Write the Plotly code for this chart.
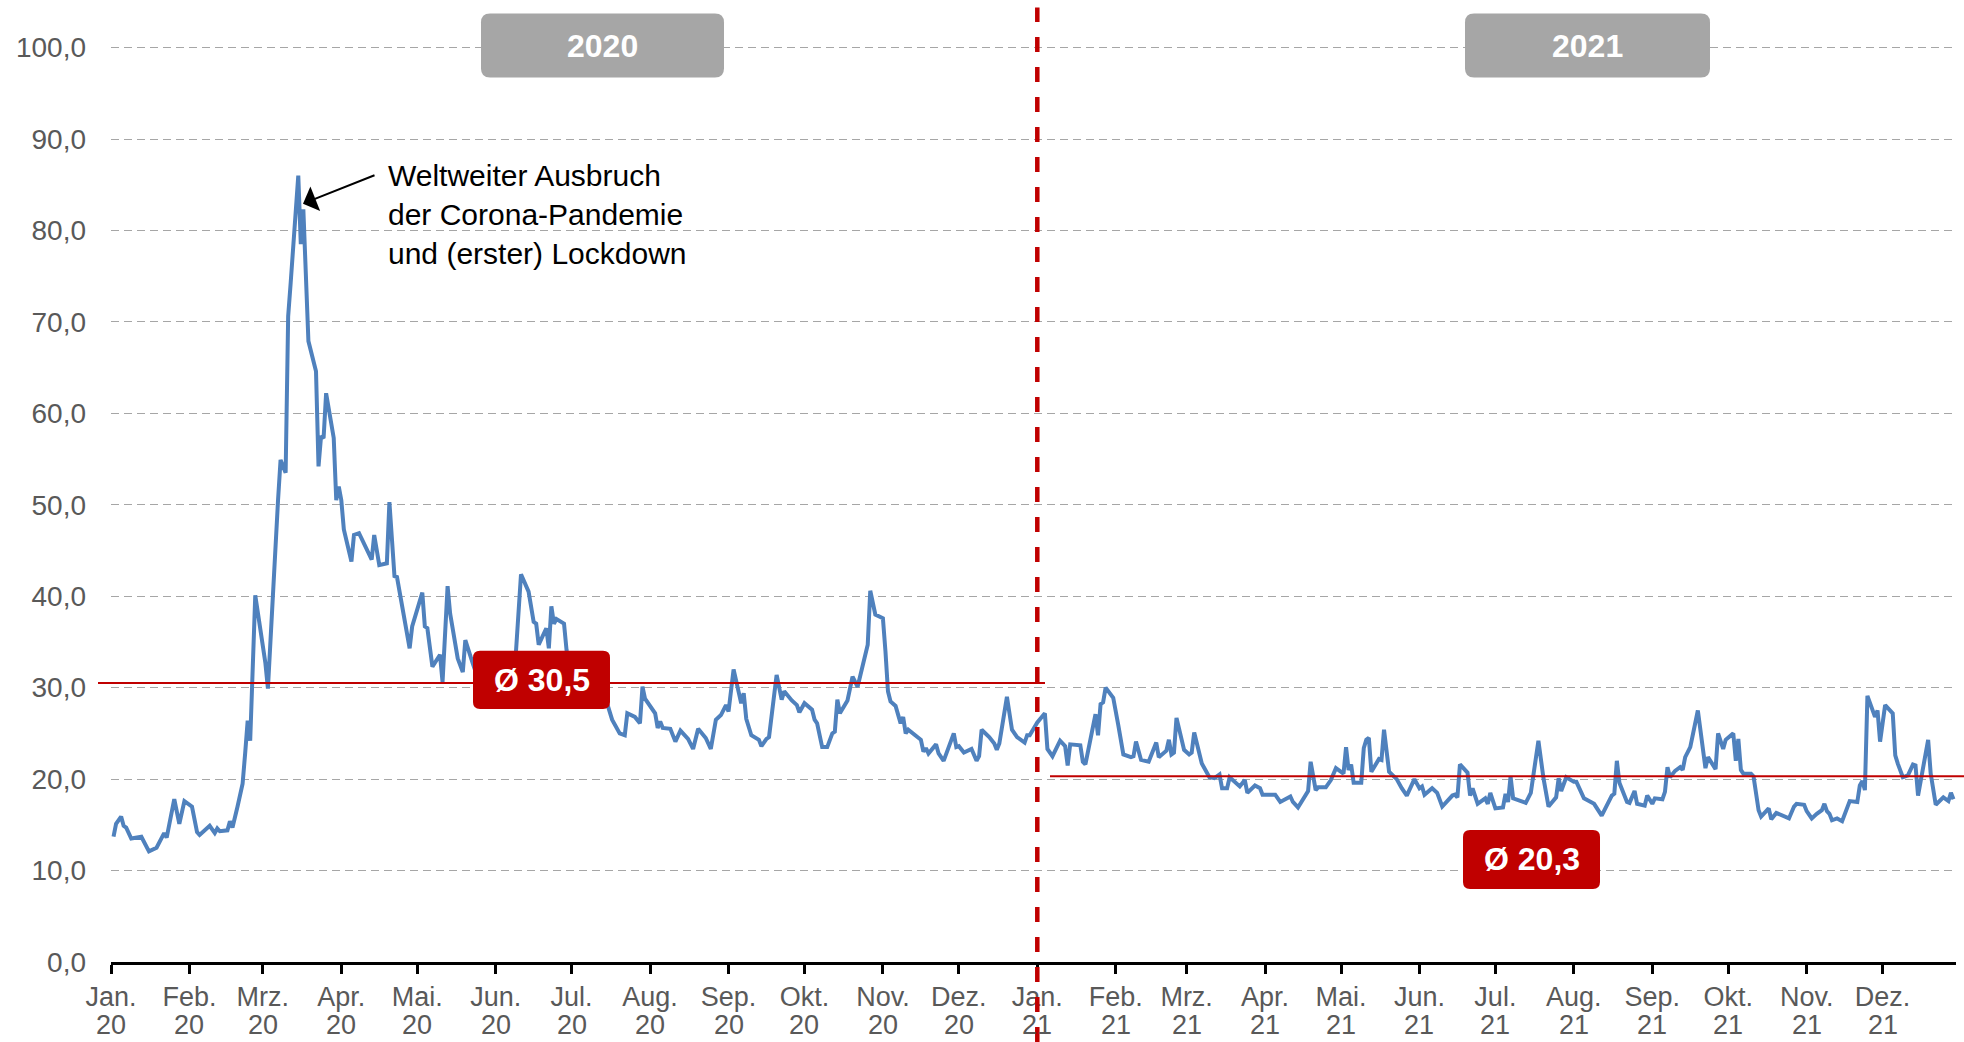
import pandas as pd
import plotly.graph_objects as go

# ---------------- data ----------------
START = "2020-01-01"
END = "2021-12-30"

# calendar day offset from START for each plotted observation
day_offset = [
    1, 2, 4, 5, 6, 8, 12, 13, 15, 18, 21, 22, 25, 27, 29, 32, 34, 35, 37, 39,
    41, 42, 43, 46, 47, 48, 50, 52, 53, 54, 55, 57, 61, 62, 66, 67, 69, 70, 71, 74,
    75, 76, 78, 81, 82, 83, 84, 85, 88, 89, 90, 91, 92, 95, 96, 98, 103, 104, 106, 109,
    110, 112, 113, 116, 118, 119, 123, 124, 125, 127, 130, 131, 133, 134, 137, 139, 140, 143, 145, 147,
    150, 152, 154, 157, 159, 160, 162, 165, 167, 168, 169, 172, 173, 174, 175, 176, 179, 180, 182, 185,
    187, 189, 192, 194, 196, 198, 201, 203, 204, 207, 209, 210, 211, 215, 216, 217, 218, 221, 223, 225,
    228, 230, 232, 235, 237, 239, 241, 243, 244, 246, 249, 250, 251, 253, 256, 257, 259, 260, 263, 265,
    266, 269, 271, 272, 274, 277, 278, 279, 281, 283, 285, 286, 287, 288, 291, 293, 295, 299, 300, 302,
    305, 306, 307, 308, 310, 312, 313, 314, 315, 320, 321, 322, 323, 326, 327, 329, 333, 334, 335, 337,
    340, 342, 343, 344, 347, 349, 350, 351, 354, 356, 358, 361, 362, 363, 366, 369, 370, 372, 375, 377,
    378, 379, 383, 384, 385, 389, 390, 391, 392, 393, 396, 398, 400, 403, 404, 405, 407, 410, 413, 414,
    417, 418, 419, 420, 421, 424, 426, 427, 428, 431, 432, 434, 436, 438, 439, 441, 442, 446, 448, 449,
    452, 454, 455, 460, 462, 466, 467, 469, 473, 474, 476, 477, 480, 482, 484, 487, 488, 489, 490, 491,
    494, 495, 496, 497, 498, 501, 502, 503, 505, 508, 510, 512, 515, 517, 518, 519, 522, 524, 526, 530,
    531, 532, 533, 536, 537, 538, 540, 543, 544, 545, 547, 550, 551, 552, 553, 554, 559, 561, 564, 566,
    568, 571, 572, 573, 575, 578, 579, 582, 586, 587, 589, 593, 594, 595, 596, 599, 600, 602, 603, 606,
    607, 609, 610, 613, 614, 615, 616, 618, 620, 621, 622, 624, 627, 630, 631, 634, 635, 637, 638, 641,
    642, 643, 644, 645, 648, 649, 651, 652, 655, 656, 658, 663, 665, 666, 669, 670, 672, 674, 676, 677,
    678, 679, 680, 682, 684, 687, 690, 691, 692, 693, 694, 697, 698, 699, 701, 704, 705, 706, 708, 710,
    712, 713, 714, 718, 719, 721, 724, 726, 727, 728,
]

index_value = [
    13.7, 15.1, 15.9, 14.9, 14.7, 13.5, 13.7, 13.2, 12.1, 12.5, 14.1, 13.6, 17.8, 15.1, 17.6, 17.0, 14.2, 13.9, 14.4, 14.9,
    14.1, 14.6, 14.3, 14.4, 15.4, 14.7, 17.0, 19.5, 22.8, 26.4, 24.2, 40.1, 32.7, 29.9, 50.5, 54.9, 53.5, 70.6, 74.3, 86.0,
    78.5, 82.3, 67.9, 64.6, 54.2, 57.5, 57.3, 62.2, 57.3, 50.5, 52.0, 50.5, 47.3, 43.8, 46.7, 46.9, 44.0, 46.7, 43.4, 43.6,
    50.3, 42.2, 42.1, 37.4, 34.3, 36.7, 40.4, 36.7, 36.5, 32.3, 33.6, 30.6, 41.1, 38.1, 33.2, 31.7, 35.2, 32.6, 31.0, 29.8,
    30.5, 31.5, 29.5, 30.0, 31.0, 33.9, 42.4, 40.5, 37.2, 37.0, 34.7, 36.5, 34.3, 38.9, 37.0, 37.5, 37.0, 34.1, 31.5, 30.5,
    31.8, 30.2, 29.0, 29.6, 28.3, 26.5, 25.0, 24.8, 27.2, 26.8, 26.1, 30.1, 28.8, 27.2, 25.6, 26.3, 25.6, 25.5, 24.1, 25.3,
    24.4, 23.3, 25.5, 24.5, 23.3, 26.5, 27.0, 28.1, 27.4, 32.0, 28.3, 29.4, 26.6, 24.8, 24.3, 23.6, 24.4, 24.6, 31.4, 28.7,
    29.6, 28.6, 28.1, 27.3, 28.3, 27.6, 26.5, 26.1, 23.5, 23.5, 25.0, 25.2, 28.7, 27.2, 28.6, 31.2, 30.1, 34.7, 40.6, 38.0,
    37.6, 34.0, 29.6, 28.5, 28.0, 26.1, 26.8, 25.0, 25.4, 24.3, 23.0, 23.4, 22.8, 23.8, 22.8, 22.0, 25.0, 23.5, 23.6, 22.9,
    23.3, 22.0, 22.5, 25.4, 24.6, 23.9, 23.2, 23.9, 29.0, 25.4, 24.6, 24.0, 24.8, 24.8, 26.2, 27.2, 23.3, 22.5, 24.2, 23.6,
    21.5, 23.8, 23.7, 21.9, 21.6, 27.1, 24.8, 28.2, 28.4, 30.0, 28.9, 25.9, 22.7, 22.4, 22.5, 24.1, 22.1, 21.9, 24.0, 22.4,
    23.1, 24.3, 22.7, 22.9, 26.7, 23.2, 22.7, 22.9, 25.1, 21.7, 21.2, 20.2, 20.1, 20.5, 19.0, 19.0, 20.2, 19.2, 19.9, 18.5,
    19.3, 19.0, 18.3, 18.3, 17.5, 18.1, 17.5, 16.9, 18.7, 21.9, 18.8, 19.1, 19.1, 19.9, 21.2, 20.6, 23.5, 21.0, 21.6, 19.6,
    19.6, 23.4, 24.3, 24.5, 20.8, 22.2, 22.1, 25.4, 20.8, 20.0, 19.0, 18.2, 20.0, 19.0, 19.2, 18.3, 19.0, 18.5, 17.0, 18.2,
    18.3, 18.0, 21.6, 20.7, 18.2, 19.0, 17.3, 17.9, 17.3, 18.5, 16.8, 16.9, 18.4, 17.5, 20.3, 17.9, 17.4, 18.5, 24.2, 20.1,
    17.0, 18.0, 20.1, 18.7, 20.2, 19.7, 19.7, 17.9, 17.3, 16.9, 16.0, 18.2, 18.4, 22.0, 19.6, 17.5, 17.4, 18.7, 17.3, 17.1,
    18.2, 17.3, 17.9, 17.8, 18.6, 21.3, 20.2, 20.9, 21.3, 21.0, 22.4, 23.5, 27.5, 21.2, 22.4, 21.1, 25.0, 23.3, 24.3, 25.0,
    22.0, 24.4, 21.0, 20.6, 20.6, 20.3, 16.6, 15.9, 16.8, 15.6, 16.3, 15.7, 17.0, 17.3, 17.2, 16.5, 15.7, 16.2, 16.6, 17.3,
    16.5, 16.2, 15.5, 15.7, 15.4, 17.6, 17.5, 19.3, 19.8, 18.8, 29.1, 26.8, 27.5, 24.1, 28.1, 27.2, 22.6, 21.7, 20.2, 20.4,
    21.6, 21.5, 18.2, 24.3, 20.6, 17.2, 18.0, 17.6, 18.5, 17.8,
]

AVG_2020 = 30.5
AVG_2021 = 20.3
YEAR_LABELS = ["2020", "2021"]
MONTH_NAMES = ["Jan.", "Feb.", "Mrz.", "Apr.", "Mai.", "Jun.",
               "Jul.", "Aug.", "Sep.", "Okt.", "Nov.", "Dez."]
Y_TICKS = [0, 10, 20, 30, 40, 50, 60, 70, 80, 90, 100]
NOTE_TEXT = "Weltweiter Ausbruch<br>der Corona-Pandemie<br>und (erster) Lockdown"

# ---------------- geometry / style ----------------
W, H = 1964, 1042
PX_PER_UNIT = 9.14            # vertical pixels per index point
Y_MIN, Y_MAX = 0, 100.5       # a little headroom so the 100 gridline is drawn
L, R, B = 111, 8, 80
PW = W - L - R
PH = (Y_MAX - Y_MIN) * PX_PER_UNIT
T = H - B - PH
FONT = "Arial, Liberation Sans, sans-serif"
BLUE = "#4F81BD"
RED = "#C00000"
GREY_BOX = "#A6A6A6"
TICK_GREY = "#595959"
Y_TICK_SIZE = 28
X_TICK_SIZE = 27

t0, t1 = pd.Timestamp(START), pd.Timestamp(END)
dates = t0 + pd.to_timedelta(day_offset, unit="D")

tick_dates = pd.date_range(START, periods=24, freq="MS")
month_text = [MONTH_NAMES[d.month - 1] for d in tick_dates]
year_text = [d.strftime("%y") for d in tick_dates]


def px(xpix):
    return (xpix - L) / PW


def py(ypix):
    return (H - B - ypix) / PH


def pdate(d):
    return (pd.Timestamp(d) - t0) / (t1 - t0)


def pval(v):
    return (v - Y_MIN) / (Y_MAX - Y_MIN)


def rounded_rect(x0, y0, x1, y1, r):
    pts = [
        ("M", [(x0 + r, y0)]),
        ("L", [(x1 - r, y0)]),
        ("Q", [(x1, y0), (x1, y0 + r)]),
        ("L", [(x1, y1 - r)]),
        ("Q", [(x1, y1), (x1 - r, y1)]),
        ("L", [(x0 + r, y1)]),
        ("Q", [(x0, y1), (x0, y1 - r)]),
        ("L", [(x0, y0 + r)]),
        ("Q", [(x0, y0), (x0 + r, y0)]),
    ]
    s = ""
    for cmd, plist in pts:
        s += cmd + " " + " ".join(f"{px(a):.5f},{py(b):.5f}" for a, b in plist) + " "
    return s + "Z"


fig = go.Figure()
fig.add_trace(go.Scatter(
    x=dates, y=index_value, mode="lines",
    line=dict(color=BLUE, width=4), showlegend=False, hoverinfo="skip",
))

shapes = []
# year separator
x_2021 = pdate("2021-01-01")
shapes.append(dict(type="line", xref="paper", yref="paper",
                   x0=x_2021, x1=x_2021, y0=py(1042), y1=py(8),
                   line=dict(color=RED, width=4.5, dash="15px,15px")))
# averages
shapes.append(dict(type="line", xref="paper", yref="paper",
                   x0=px(98), x1=px(1045), y0=pval(AVG_2020), y1=pval(AVG_2020),
                   line=dict(color=RED, width=2)))
shapes.append(dict(type="line", xref="paper", yref="paper",
                   x0=px(1050), x1=px(1964), y0=pval(AVG_2021), y1=pval(AVG_2021),
                   line=dict(color=RED, width=2)))

boxes = [
    # (x0, y0, x1, y1, radius, colour, text)
    (481, 14, 724, 78, 9, GREY_BOX, YEAR_LABELS[0]),
    (1465, 14, 1710, 78, 9, GREY_BOX, YEAR_LABELS[1]),
    (473, 651, 610, 709, 7, RED, "Ø " + f"{AVG_2020:.1f}".replace(".", ",")),
    (1463, 830, 1600, 889, 7, RED, "Ø " + f"{AVG_2021:.1f}".replace(".", ",")),
]
annotations = []
for x0, y0, x1, y1, r, col, txt in boxes:
    shapes.append(dict(type="path", xref="paper", yref="paper",
                       path=rounded_rect(x0, y0, x1, y1, r),
                       fillcolor=col, line=dict(width=0)))
    annotations.append(dict(xref="paper", yref="paper",
                            x=px((x0 + x1) / 2), y=py((y0 + y1) / 2),
                            xanchor="center", yanchor="middle", showarrow=False,
                            text=f"<b>{txt}</b>",
                            font=dict(family=FONT, size=32, color="white")))

# second row of the date axis labels (two-digit year)
for d, yy in zip(tick_dates, year_text):
    annotations.append(dict(xref="x", yref="paper", x=d, y=py(1025),
                            xanchor="center", yanchor="middle", showarrow=False,
                            borderpad=0,
                            text=yy, font=dict(family=FONT, size=X_TICK_SIZE, color=TICK_GREY)))

# note with arrow
annotations.append(dict(xref="paper", yref="paper", x=px(303), y=py(204),
                        ax=73, ay=-29, text="", showarrow=True,
                        arrowhead=1, arrowsize=2.2, arrowwidth=2, arrowcolor="black"))
annotations.append(dict(xref="paper", yref="paper", x=px(386), y=py(215),
                        xanchor="left", yanchor="middle", align="left",
                        showarrow=False, text=NOTE_TEXT,
                        font=dict(family=FONT, size=30, color="black")))

fig.update_layout(
    width=W, height=H,
    margin=dict(l=L, r=R, t=T, b=B, pad=0, autoexpand=False),
    paper_bgcolor="white", plot_bgcolor="white",
    separators=",.",
    shapes=shapes, annotations=annotations,
    font=dict(family=FONT, color=TICK_GREY, size=Y_TICK_SIZE),
    xaxis=dict(
        type="date", range=[START, END], automargin=False,
        tickmode="array", tickvals=tick_dates, ticktext=month_text,
        ticks="outside", ticklen=9, tickwidth=2.5, tickcolor="black",
        showline=True, linecolor="black", linewidth=2.5,
        showgrid=False, zeroline=False,
        tickfont=dict(family=FONT, size=X_TICK_SIZE, color=TICK_GREY),
    ),
    yaxis=dict(
        range=[Y_MIN, Y_MAX], tickmode="array", tickvals=Y_TICKS, automargin=False,
        tickformat=".1f", ticks="", ticklabelstandoff=24,
        showgrid=True, gridcolor="#A6A6A6", gridwidth=1.3, griddash="8px,5px",
        showline=False, zeroline=False,
        tickfont=dict(family=FONT, size=Y_TICK_SIZE, color=TICK_GREY),
    ),
)

fig.write_html(
    "out.html",
    config={"displayModeBar": False},
    post_script="document.body.style.margin='0';document.body.style.overflow='hidden';",
)
